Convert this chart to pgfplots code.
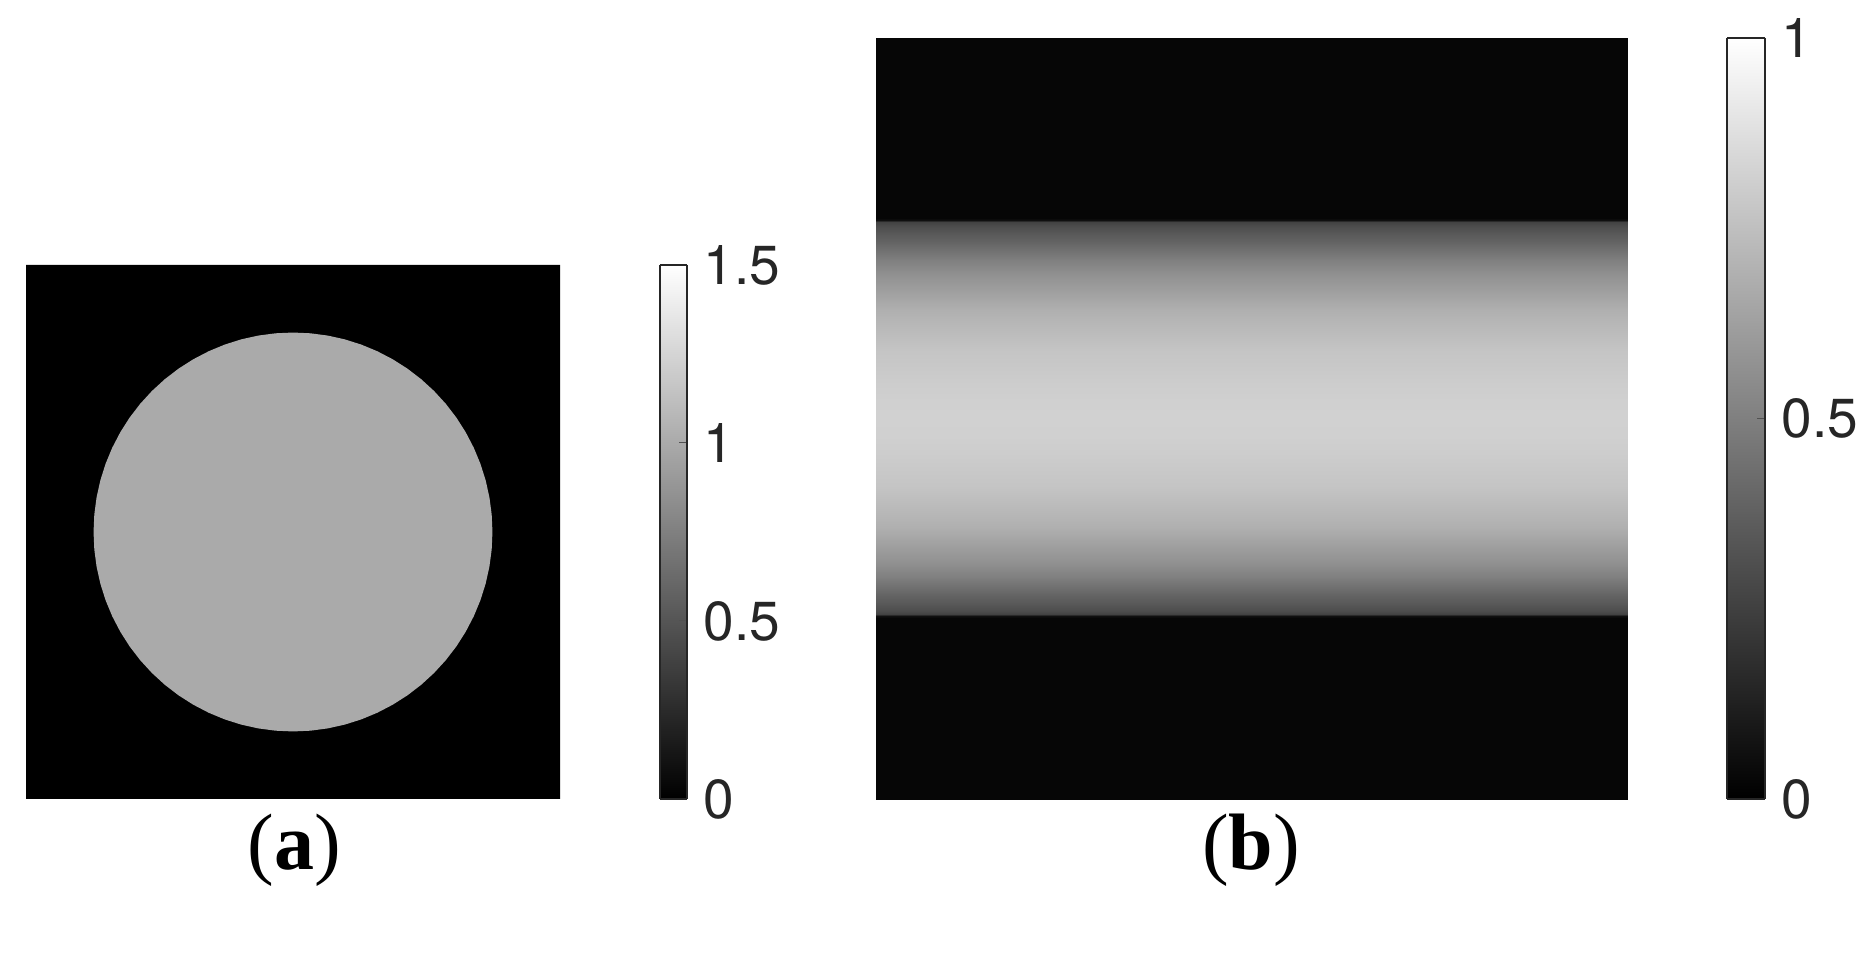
\documentclass[border=0pt]{standalone}
\usepackage{fontspec}
\setmainfont{TeX Gyre Heros}
\newfontfamily\capfont{Liberation Serif}
\usepackage{pgfplots}
\usepackage{pgfplotstable}
\pgfplotsset{compat=1.18}
\definecolor{ticktext}{HTML}{262626}
\definecolor{diskgray}{HTML}{AAAAAA}

% grey level of panel (b) against the pixel row
\pgfplotstableread{
x y z
0 38 0.025
1 38 0.025
0 218 0.025
1 218 0.025
0 220 0.06
1 220 0.06
0 222 0.26
1 222 0.26
0 226 0.30
1 226 0.30
0 234 0.35
1 234 0.35
0 240 0.38
1 240 0.38
0 250 0.44
1 250 0.44
0 260 0.50
1 260 0.50
0 275 0.57
1 275 0.57
0 290 0.62
1 290 0.62
0 310 0.69
1 310 0.69
0 330 0.73
1 330 0.73
0 350 0.77
1 350 0.77
0 380 0.80
1 380 0.80
0 400 0.815
1 400 0.815
0 418 0.82
1 418 0.82
0 437 0.815
1 437 0.815
0 457 0.80
1 457 0.80
0 487 0.77
1 487 0.77
0 507 0.73
1 507 0.73
0 527 0.69
1 527 0.69
0 547 0.62
1 547 0.62
0 562 0.57
1 562 0.57
0 577 0.50
1 577 0.50
0 587 0.44
1 587 0.44
0 597 0.38
1 597 0.38
0 603 0.35
1 603 0.35
0 611 0.30
1 611 0.30
0 614 0.26
1 614 0.26
0 616 0.06
1 616 0.06
0 618 0.025
1 618 0.025
0 799 0.025
1 799 0.025
}\bandtable

\pgfplotsset{
    image panel/.style={
        scale only axis, anchor=south west,
        axis line style={draw=none}, ticks=none, clip=true,
    },
    gray bar/.style={
        scale only axis, anchor=south west, view={0}{90},
        xmin=0, xmax=1, xtick=\empty,
        ytick pos=right, tick align=inside,
        major tick length=8pt,
        y tick style={draw=ticktext!80, line width=1pt},
        axis line style={draw=ticktext, line width=1.1pt},
        colormap/blackwhite,
        yticklabel style={
            font=\fontsize{55}{55}\selectfont, text=ticktext,
            anchor=west, xshift=13pt,
        },
    },
}

\begin{document}
\begin{tikzpicture}[x=1pt,y=1pt]
\useasboundingbox (0,0) rectangle (1866,955);

% (a) phantom
\begin{axis}[image panel, at={(26pt,156pt)}, width=534pt, height=534pt,
    xmin=0, xmax=200, ymin=0, ymax=200]
\addplot[fill=black, draw=none] coordinates {(0,0) (200,0) (200,200) (0,200) (0,0)};
\addplot[fill=diskgray, draw=none] coordinates {
    (174.70,100) (174.42,106.51) (173.57,112.97) (172.16,119.33) (170.20,125.55) (167.70,131.57)
    (164.69,137.35) (161.19,142.85) (157.22,148.02) (152.82,152.82) (148.02,157.22) (142.85,161.19)
    (137.35,164.69) (131.57,167.70) (125.55,170.20) (119.33,172.16) (112.97,173.57) (106.51,174.42)
    (100,174.70) (93.49,174.42) (87.03,173.57) (80.67,172.16) (74.45,170.20) (68.43,167.70)
    (62.65,164.69) (57.15,161.19) (51.98,157.22) (47.18,152.82) (42.78,148.02) (38.81,142.85)
    (35.31,137.35) (32.30,131.57) (29.80,125.55) (27.84,119.33) (26.43,112.97) (25.58,106.51)
    (25.30,100) (25.58,93.49) (26.43,87.03) (27.84,80.67) (29.80,74.45) (32.30,68.43)
    (35.31,62.65) (38.81,57.15) (42.78,51.98) (47.18,47.18) (51.98,42.78) (57.15,38.81)
    (62.65,35.31) (68.43,32.30) (74.45,29.80) (80.67,27.84) (87.03,26.43) (93.49,25.58)
    (100,25.30) (106.51,25.58) (112.97,26.43) (119.33,27.84) (125.55,29.80) (131.57,32.30)
    (137.35,35.31) (142.85,38.81) (148.02,42.78) (152.82,47.18) (157.22,51.98) (161.19,57.15)
    (164.69,62.65) (167.70,68.43) (170.20,74.45) (172.16,80.67) (173.57,87.03) (174.42,93.49)
    (174.70,100)
};
\end{axis}

% colour bar of (a)
\begin{axis}[gray bar, at={(660pt,156pt)}, width=27pt, height=534pt,
    ymin=0, ymax=1.5, ytick={0,0.5,1,1.5}, yticklabels={0,0.5,1,1.5},
    point meta min=0, point meta max=1.5]
\addplot3[surf, shader=interp, mesh/cols=2] coordinates {
    (0,0,0) (1,0,0) (0,1.5,1.5) (1,1.5,1.5)
};
\end{axis}

% (b) sinogram
\begin{axis}[image panel, view={0}{90}, at={(876pt,156pt)}, width=751pt, height=761pt,
    xmin=0, xmax=1, ymin=38, ymax=799, y dir=reverse,
    colormap/blackwhite, point meta min=0, point meta max=1]
\addplot3[surf, shader=interp, mesh/cols=2] table[x=x, y=y, z=z] {\bandtable};
\end{axis}

% colour bar of (b)
\begin{axis}[gray bar, at={(1727pt,156pt)}, width=38pt, height=761pt,
    ymin=0, ymax=1, ytick={0,0.5,1}, yticklabels={0,0.5,1},
    point meta min=0, point meta max=1]
\addplot3[surf, shader=interp, mesh/cols=2] coordinates {
    (0,0,0) (1,0,0) (0,1,1) (1,1,1)
};
\end{axis}

\node[anchor=base, font=\capfont\fontsize{80}{80}\selectfont] at (294,85) {(\textbf{a})};
\node[anchor=base, font=\capfont\fontsize{80}{80}\selectfont] at (1251,85) {(\textbf{b})};
\end{tikzpicture}
\end{document}
